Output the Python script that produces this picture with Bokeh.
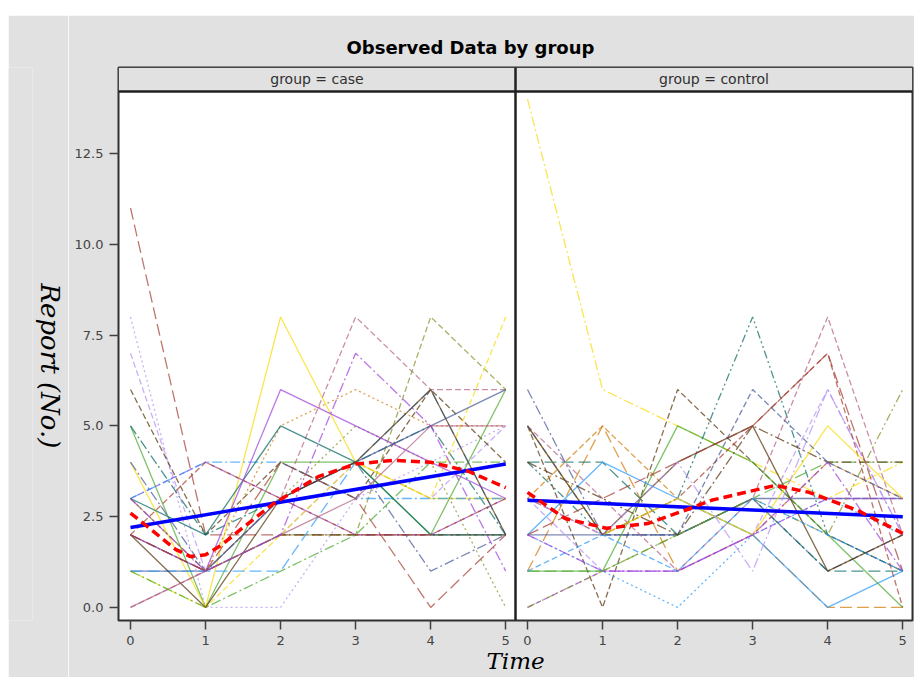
from bokeh.plotting import figure
from bokeh.layouts import column, row
from bokeh.models import (Range1d, FixedTicker, NumeralTickFormatter, Span, Spacer, Title,
                          CustomJSTickFormatter)
from bokeh.core.properties import value
from bokeh.embed import file_html
from bokeh.resources import INLINE

# ---------------- data ----------------
times = [0, 1, 2, 3, 4, 5]
groups = ["case", "control"]
y_ticks = [0, 2.5, 5, 7.5, 10, 12.5]

case_reports = [
    [11, 2, 2, 2, 2, 2],
    [8, 0, 0, 3, 4, 5],
    [7, 1, 2, 4, 3, 5],
    [6, 2, 4, 3, 6, 4],
    [5, 0, 4, 4, 2, 6],
    [5, 2, 3, 4, 5, 2],
    [4, 0, 8, 4, 3, 3],
    [4, 1, 3, 4, 1, 2],
    [3, 4, 3, 2, 2, 3],
    [0, 1, 3, 8, 6, 6],
    [3, 1, 5, 6, 5, 5],
    [3, 1, 2, 2, 8, 6],
    [2, 1, 3, 5, 4, 0],
    [1, 0, 2, 4, 3, 8],
    [1, 1, 3, 4, 5, 6],
    [1, 1, 1, 4, 6, 2],
    [3, 4, 4, 3, 3, 3],
    [2, 1, 2, 2, 2, 2],
    [3, 2, 5, 4, 2, 2],
    [2, 0, 3, 4, 6, 2],
    [2, 4, 3, 2, 2, 3],
    [2, 1, 6, 5, 4, 3],
    [0, 1, 2, 3, 5, 5],
    [3, 1, 2, 7, 5, 1],
    [2, 1, 4, 3, 0, 2],
    [1, 0, 1, 2, 4, 4],
]

control_reports = [
    [14, 6, 5, 4, 3, 4],
    [6, 2, 2, 3, 1, 2],
    [5, 0, 6, 4, 2, 1],
    [3, 5, 3, 2, 4, 3],
    [1, 5, 1, 2, 0, 0],
    [4, 4, 2, 3, 1, 1],
    [2, 4, 3, 2, 0, 1],
    [2, 2, 2, 3, 3, 3],
    [1, 1, 2, 3, 4, 4],
    [3, 1, 1, 2, 6, 2],
    [2, 1, 0, 2, 3, 2],
    [0, 1, 1, 2, 3, 3],
    [0, 1, 2, 3, 2, 6],
    [1, 1, 5, 4, 2, 0],
    [4, 2, 3, 8, 2, 1],
    [5, 3, 1, 3, 8, 2],
    [3, 2, 3, 5, 7, 0],
    [4, 3, 2, 5, 4, 4],
    [5, 2, 3, 2, 5, 3],
    [5, 2, 4, 5, 1, 2],
    [3, 2, 4, 1, 6, 2],
    [2, 3, 4, 5, 7, 1],
    [2, 1, 1, 2, 4, 1],
    [1, 2, 1, 3, 2, 1],
    [5, 2, 2, 6, 4, 3],
]

# fitted curves
case_linear_t = [0, 5]
case_linear_y = [2.2, 3.95]
case_smooth_t = [0, 0.3, 0.6, 0.8, 1.0, 1.2, 1.5, 1.9, 2.5, 3.0, 3.5, 4.0, 4.5, 5.0]
case_smooth_y = [2.6, 2.1, 1.6, 1.4, 1.45, 1.7, 2.2, 2.85, 3.6, 3.95, 4.05, 4.0, 3.75, 3.3]
control_linear_t = [0, 5]
control_linear_y = [2.95, 2.5]
control_smooth_t = [0, 0.5, 1.05, 1.6, 2.2, 2.45, 3.3, 3.75, 4.4, 5.0]
control_smooth_y = [3.17, 2.45, 2.18, 2.31, 2.75, 2.95, 3.36, 3.17, 2.67, 2.04]

# ---------------- styles ----------------
palette = ["#445694", "#A23A2E", "#01665E", "#543005", "#9D3CDB", "#7F8E1F",
           "#2597FA", "#B26084", "#D17800", "#47A82A", "#B38EF3", "#F9DA04"]
dashes = {"solid": "solid", "dash": "6 3", "long": "12 5", "dashdot": "10 3 2 3",
          "dot": "2 3", "dashdotdot": "8 3 2 3 2 3"}
case_style = [(1, "long"), (10, "dot"), (10, "dash"), (3, "dash"), (9, "solid"), (2, "dashdot"),
              (11, "solid"), (0, "dashdot"), (4, "dash"), (7, "dash"), (8, "dot"), (5, "dash"),
              (5, "dot"), (11, "dash"), (0, "solid"), (6, "long"), (6, "dashdot"), (3, "dashdot"),
              (2, "solid"), (3, "solid"), (1, "dash"), (4, "solid"), (7, "solid"), (4, "dashdot"),
              (1, "long"), (9, "dashdot")]
control_style = [(11, "dashdot"), (0, "dashdot"), (3, "dash"), (8, "dash"), (8, "long"), (2, "long"),
                 (6, "solid"), (0, "solid"), (9, "long"), (10, "dash"), (6, "dot"), (4, "dash"),
                 (5, "dashdotdot"), (9, "solid"), (2, "dashdotdot"), (7, "dash"), (1, "dash"),
                 (3, "dashdot"), (11, "solid"), (3, "solid"), (10, "dashdot"), (1, "long"),
                 (4, "dashdot"), (6, "dash"), (0, "dash")]

X0, X1 = -0.16, 5.13
W = X1 - X0
Y0, YTOP, YHEAD = -0.36, 14.87, 14.21
GRAY = "#e1e1e1"
PAD_TOP, PAD_LEFT = 15, 8
H = 662
LAB_W = 60
MAIN_W = 914 - PAD_LEFT - LAB_W
TOP, BOTTOM = 52, 57

# ---------------- y-axis title strip ----------------
lab = figure(width=LAB_W, height=H, output_backend="svg", toolbar_location=None,
             x_range=Range1d(0, 1), y_range=Range1d(0, 1),
             x_axis_location=None, y_axis_location=None,
             min_border_left=0, min_border_right=0, min_border_top=TOP, min_border_bottom=BOTTOM)
lab.background_fill_color = GRAY
lab.background_fill_alpha = 1
lab.border_fill_color = GRAY
lab.border_fill_alpha = 1
lab.outline_line_color = None
lab.grid.visible = False
lab.add_layout(Title(text="Report (No.)", align="left", offset=216, text_font="DejaVu Serif",
                     text_font_style="italic", text_font_size="26px", text_color="black",
                     standoff=4), "right")

# ---------------- main panels ----------------
p = figure(width=MAIN_W, height=H, output_backend="svg", toolbar_location=None,
           x_range=Range1d(X0, X0 + 2 * W), y_range=Range1d(Y0, YTOP),
           min_border_left=110 - LAB_W, min_border_right=2, min_border_top=TOP,
           min_border_bottom=BOTTOM)
p.extra_x_ranges = {"ctrl": Range1d(X0 - W, X1)}
p.background_fill_color = "white"
p.border_fill_color = GRAY
p.outline_line_color = "#303030"
p.outline_line_width = 2
p.xgrid.visible = False
p.ygrid.visible = False

# title
p.title.text = "Observed Data by group"
p.title.text_font = "DejaVu Sans"
p.title.text_font_style = "bold"
p.title.text_font_size = "18px"
p.title.text_color = "black"
p.title.align = "left"
p.title.offset = 228
p.title.standoff = 20

# axes
xa = p.xaxis[0]
xa.ticker = FixedTicker(ticks=times + [t + W for t in times])
xa.formatter = CustomJSTickFormatter(args=dict(w=W, edge=X1),
                                     code="return String(Math.round(tick > edge ? tick - w : tick));")
ya = p.yaxis[0]
ya.ticker = FixedTicker(ticks=y_ticks)
ya.formatter = NumeralTickFormatter(format="0.0")
for ax in (xa, ya):
    ax.axis_line_color = None
    ax.major_tick_line_color = "#404040"
    ax.major_tick_line_width = 1.5
    ax.major_tick_out = 9
    ax.major_tick_in = 0
    ax.minor_tick_line_color = None
    ax.major_label_text_font = "DejaVu Sans"
    ax.major_label_text_font_size = "13px"
    ax.major_label_text_color = "#444444"
xa.major_label_standoff = 6
ya.major_label_standoff = 6
xa.axis_label = "Time"
xa.axis_label_text_font = "DejaVu Serif"
xa.axis_label_text_font_style = "italic"
xa.axis_label_text_font_size = "23px"
xa.axis_label_text_color = "black"
xa.axis_label_standoff = 0

# spaghetti lines
for vals, (ci, ds) in zip(case_reports, case_style):
    p.line(times, vals, line_color=palette[ci], line_dash=dashes[ds], line_width=1.3, line_alpha=0.7)
for vals, (ci, ds) in zip(control_reports, control_style):
    p.line(times, vals, line_color=palette[ci], line_dash=dashes[ds], line_width=1.3, line_alpha=0.7,
           x_range_name="ctrl")

# fits
p.line(case_linear_t, case_linear_y, line_color="#0000FF", line_width=3.5)
p.line(case_smooth_t, case_smooth_y, line_color="#FF0000", line_width=3.5, line_dash="9 5")
p.line(control_linear_t, control_linear_y, line_color="#0000FF", line_width=3.5, x_range_name="ctrl")
p.line(control_smooth_t, control_smooth_y, line_color="#FF0000", line_width=3.5, line_dash="9 5",
       x_range_name="ctrl")

# panel headers
for g, rn in zip(groups, ["default", "ctrl"]):
    p.quad(left=[X0], right=[X1], bottom=[YHEAD], top=[YTOP], fill_color=GRAY,
           line_color="#303030", line_width=1, x_range_name=rn)
    p.text(x=[(X0 + X1) / 2], y=[(YHEAD + YTOP) / 2], text=[f"group = {g}"], x_range_name=rn,
           text_font=value("DejaVu Sans"), text_font_size="14px", text_color="#303030",
           text_align="center", text_baseline="middle")
p.add_layout(Span(location=YHEAD, dimension="width", line_color="#202020", line_width=2.5))
p.add_layout(Span(location=X1, dimension="height", line_color="#202020", line_width=2.5))

layout = column(Spacer(width=914, height=PAD_TOP),
                row(Spacer(width=PAD_LEFT, height=H), lab, p, spacing=0), spacing=0)
open("out.html", "w").write(file_html(layout, INLINE))
